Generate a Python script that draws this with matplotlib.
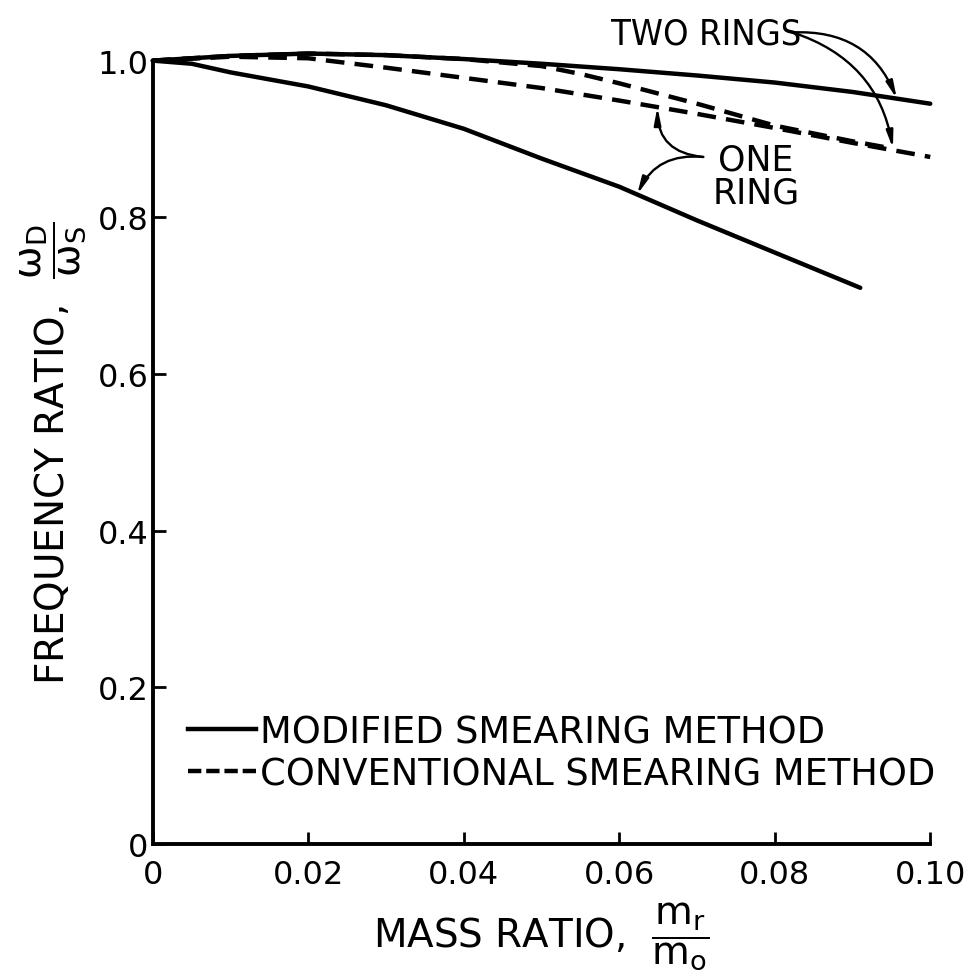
import numpy as np
import matplotlib
matplotlib.use("Agg")
import matplotlib.pyplot as plt
from matplotlib.lines import Line2D

# ---- data ----
x_mod_one = [0.0, 0.005, 0.01, 0.02, 0.03, 0.04, 0.05, 0.06, 0.07, 0.08, 0.091]
y_mod_one = [1.0, 0.996, 0.985, 0.967, 0.943, 0.913, 0.875, 0.839, 0.796, 0.755, 0.710]

x_mod_two = [0.0, 0.01, 0.02, 0.03, 0.04, 0.05, 0.06, 0.07, 0.08, 0.09, 0.10]
y_mod_two = [1.0, 1.006, 1.009, 1.007, 1.002, 0.996, 0.989, 0.981, 0.972, 0.960, 0.945]

x_conv_one = [0.0, 0.01, 0.02, 0.03, 0.04, 0.05, 0.06, 0.07, 0.08, 0.09, 0.10]
y_conv_one = [1.0, 1.005, 1.003, 0.991, 0.978, 0.965, 0.949, 0.932, 0.914, 0.895, 0.877]

x_conv_two = [0.0, 0.01, 0.02, 0.03, 0.04, 0.05, 0.055, 0.06, 0.07, 0.08, 0.09, 0.095]
y_conv_two = [1.0, 1.006, 1.009, 1.007, 1.002, 0.993, 0.983, 0.971, 0.945, 0.917, 0.897, 0.888]

x_ticks = [0.0, 0.02, 0.04, 0.06, 0.08, 0.10]
x_tick_labels = ["0", "0.02", "0.04", "0.06", "0.08", "0.10"]
y_ticks = [0.0, 0.2, 0.4, 0.6, 0.8, 1.0]
y_tick_labels = ["0", "0.2", "0.4", "0.6", "0.8", "1.0"]

legend_labels = ["MODIFIED SMEARING METHOD", "CONVENTIONAL SMEARING METHOD"]

# x positions where annotation arrows touch the curves
arrow_x_two_mod = 0.0957
arrow_x_two_conv = 0.0952
arrow_x_one_conv = 0.0649
arrow_x_one_mod = 0.0623

plt.rcParams['font.family'] = ['DejaVu Sans']
plt.rcParams['mathtext.fontset'] = 'dejavusans'

fig = plt.figure(figsize=(9.67, 9.78), dpi=100)
ax = fig.add_axes([0.158, 0.136, 0.804, 0.801])

lw = 3.2
dash = (4.2, 2.3)
ax.plot(x_mod_one, y_mod_one, color='black', lw=lw, solid_capstyle='round', clip_on=False)
ax.plot(x_mod_two, y_mod_two, color='black', lw=lw, solid_capstyle='round', clip_on=False)
ax.plot(x_conv_one, y_conv_one, color='black', lw=lw, linestyle=(0, dash), clip_on=False)
ax.plot(x_conv_two, y_conv_two, color='black', lw=lw, linestyle=(0, dash), clip_on=False)

ax.set_xlim(0, 0.10)
ax.set_ylim(0, 1.0)
for s in ['top', 'right']:
    ax.spines[s].set_visible(False)
for s in ['left', 'bottom']:
    ax.spines[s].set_linewidth(2.8)

ax.set_xticks(x_ticks)
ax.set_xticklabels(x_tick_labels)
ax.set_yticks(y_ticks)
ax.set_yticklabels(y_tick_labels)
ax.tick_params(axis='both', direction='in', length=9, width=2.0, labelsize=23)
ax.tick_params(axis='x', pad=11)
ax.tick_params(axis='y', pad=3)

ax.set_xlabel(r"MASS RATIO, $\ \dfrac{\mathrm{m_r}}{\mathrm{m_o}}$", fontsize=28)
ax.set_ylabel(r"FREQUENCY RATIO, $\ \dfrac{\mathrm{\omega_D}}{\mathrm{\omega_S}}$", fontsize=28)
ax.xaxis.set_label_coords(0.5, -0.072)
ax.yaxis.set_label_coords(-0.082, 0.5)

# legend
handles = [Line2D([], [], color='black', lw=lw),
           Line2D([], [], color='black', lw=lw, linestyle=(0, (3.0, 1.1)))]
ax.legend(handles, legend_labels, loc='lower left', bbox_to_anchor=(0.045, 0.066),
          frameon=False, fontsize=26.5, handlelength=1.85, handletextpad=0.12,
          labelspacing=0.14, borderpad=0, borderaxespad=0)

# annotations
arrow_kw = dict(arrowstyle='-|>,head_length=1.0,head_width=0.2', color='black',
                lw=1.7, shrinkA=0, shrinkB=0)
ax.text(0.712, 1.034, "TWO RINGS", transform=ax.transAxes, fontsize=26,
        family='DejaVu Sans', fontstretch='condensed',
        ha='center', va='center')
start_two = (0.823, 1.036)
ax.annotate("", xy=(arrow_x_two_mod, np.interp(arrow_x_two_mod, x_mod_two, y_mod_two)),
            xycoords='data', xytext=start_two, textcoords='axes fraction',
            arrowprops=dict(connectionstyle='arc3,rad=-0.35', **arrow_kw))
ax.annotate("", xy=(arrow_x_two_conv, np.interp(arrow_x_two_conv, x_conv_two, y_conv_two)),
            xycoords='data', xytext=start_two, textcoords='axes fraction',
            arrowprops=dict(connectionstyle='arc3,rad=-0.3', **arrow_kw))

ax.text(0.776, 0.853, "ONE\nRING", transform=ax.transAxes, fontsize=25,
        ha='center', va='center', linespacing=0.95)
start_one = (0.708, 0.877)
ax.annotate("", xy=(arrow_x_one_conv, np.interp(arrow_x_one_conv, x_conv_one, y_conv_one)),
            xycoords='data', xytext=start_one, textcoords='axes fraction',
            arrowprops=dict(connectionstyle='arc3,rad=-0.45', **arrow_kw))
ax.annotate("", xy=(arrow_x_one_mod, np.interp(arrow_x_one_mod, x_mod_one, y_mod_one)),
            xycoords='data', xytext=start_one, textcoords='axes fraction',
            arrowprops=dict(connectionstyle='arc3,rad=0.35', **arrow_kw))

fig.savefig("out.png", dpi=100)
